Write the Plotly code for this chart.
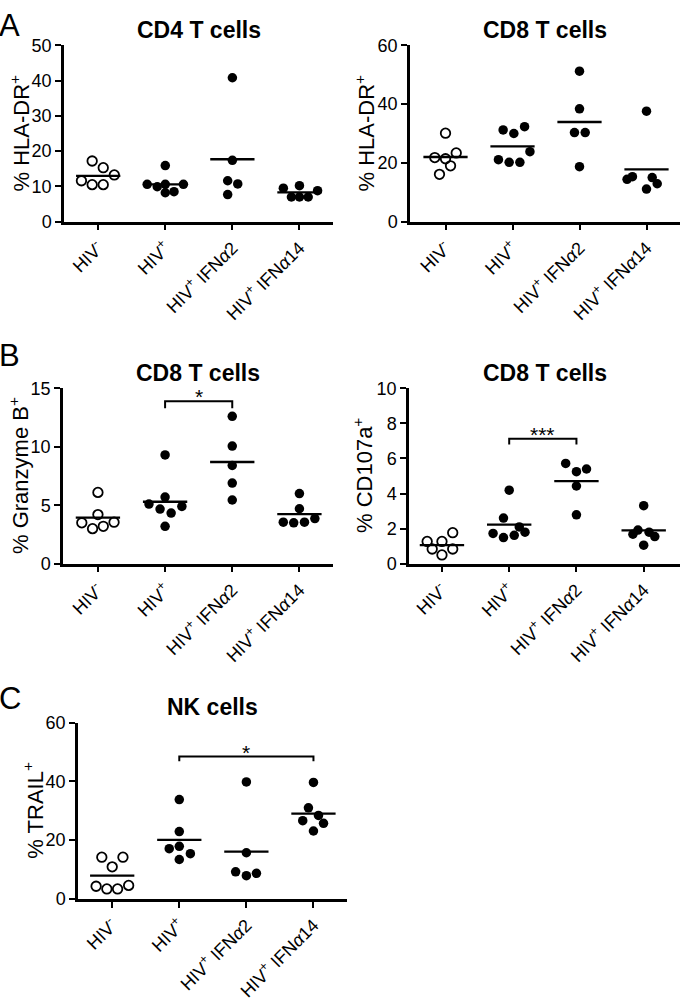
import plotly.graph_objects as go

W, H = 680, 1003
FONT = "Liberation Sans, Arial, sans-serif"

## group labels (x axis)
groups = ["HIV<sup>-</sup>", "HIV<sup>+</sup>",
          "HIV<sup>+</sup> IFN<i>α</i>2", "HIV<sup>+</sup> IFN<i>α</i>14"]

## A: CD4 T cells, % HLA-DR+
cd4_hladr = [
    [17.2, 15.3, 13.25, 11.6, 10.5, 10.5],
    [15.9, 10.6, 9.9, 10.6, 10.6, 8.2, 8.5],
    [40.8, 17.4, 11.6, 10.7, 7.7],
    [9.5, 10.2, 8.8, 7.0, 7.0, 7.0],
]
cd4_hladr_mean = [13.0, 10.6, 17.7, 8.3]
cd4_hladr_dx = [
    [-0.09, 0.075, 0.24, -0.25, -0.09, 0.075],
    [0, -0.27, -0.12, 0.0, 0.27, 0.0, 0.13],
    [0, 0, -0.07, 0.08, -0.07],
    [-0.24, 0, 0.27, -0.12, 0, 0.13],
]

## A: CD8 T cells, % HLA-DR+
cd8_hladr = [
    [30.1, 21.8, 21.4, 23.4, 19.0, 16.1],
    [31.2, 30.0, 32.3, 23.8, 21.1, 20.2, 20.2],
    [51.2, 38.4, 30.3, 30.3, 18.7],
    [37.6, 14.4, 15.3, 15.0, 12.9, 11.1],
]
cd8_hladr_mean = [22.0, 25.6, 33.9, 17.8]
cd8_hladr_dx = [
    [0, -0.16, 0, 0.16, 0.075, -0.09],
    [-0.14, 0.02, 0.18, 0.26, -0.21, -0.05, 0.11],
    [0, 0, -0.075, 0.085, 0],
    [0, -0.29, -0.21, 0.085, 0.16, 0],
]

## B: CD8 T cells, % Granzyme B+
cd8_gzmb = [
    [6.1, 4.2, 3.5, 3.0, 3.2, 3.55],
    [9.3, 5.7, 5.1, 4.67, 4.33, 4.9, 3.2],
    [12.6, 10.06, 8.4, 6.9, 5.45],
    [6.0, 4.7, 3.55, 3.5, 3.55, 3.86],
]
cd8_gzmb_mean = [3.95, 5.3, 8.7, 4.25]
cd8_gzmb_dx = [
    [0, 0, -0.24, -0.08, 0.08, 0.24],
    [0, 0, -0.24, -0.075, 0.09, 0.25, 0],
    [0, 0, 0, 0, 0],
    [0, 0, -0.24, -0.085, 0.075, 0.23],
]

## B: CD8 T cells, % CD107a+
cd8_cd107a = [
    [1.27, 1.77, 0.84, 1.27, 0.84, 0.5],
    [4.19, 2.6, 2.1, 1.73, 1.49, 1.62, 1.8],
    [5.72, 5.25, 5.4, 4.43, 2.79],
    [3.31, 1.92, 1.68, 1.8, 1.55, 1.06],
]
cd8_cd107a_mean = [1.06, 2.23, 4.71, 1.9]
cd8_cd107a_dx = [
    [-0.22, 0.16, -0.145, 0, 0.16, 0],
    [0, -0.085, 0.15, -0.24, -0.085, 0.075, 0.235],
    [-0.16, 0, 0.15, 0, 0],
    [0, -0.085, -0.16, 0.08, 0.165, 0],
]

## C: NK cells, % TRAIL+
nk_trail = [
    [14.2, 14.2, 10.9, 4.3, 3.4, 3.4, 4.6],
    [33.8, 22.9, 17.1, 17.9, 15.4, 13.4],
    [39.8, 15.7, 9.2, 7.9, 8.7],
    [39.6, 31.0, 28.4, 26.6, 25.7, 23.1],
]
nk_trail_mean = [7.9, 20.1, 16.1, 29.0]
nk_trail_dx = [
    [-0.155, 0.16, 0, -0.24, -0.08, 0.08, 0.245],
    [0, 0, -0.15, 0, 0.165, 0],
    [0, 0, -0.16, 0, 0.15],
    [0, -0.075, 0.075, -0.16, 0.15, 0],
]

## significance brackets: (from group, to group, height, drop, label)
sig_gzmb = (1, 2, 13.9, 13.3, "*")
sig_cd107a = (1, 2, 7.13, 6.8, "***")
sig_trail = (1, 3, 48.4, 46.8, "*")

# panel layout in pixels: x0, x1 (axis span), y0 (top), y1 (bottom)
panels = [
    dict(data=cd4_hladr, mean=cd4_hladr_mean, dx=cd4_hladr_dx,
         title="CD4 T cells", ylab="% HLA-DR<sup>+</sup>",
         yr=[0, 50], dtick=10, xpx=(64, 333), xr=[-0.51, 3.5], ypx=(36, 216),
         ylx=20, sig=None),
    dict(data=cd8_hladr, mean=cd8_hladr_mean, dx=cd8_hladr_dx,
         title="CD8 T cells", ylab="% HLA-DR<sup>+</sup>",
         yr=[0, 60], dtick=20, xpx=(410, 680), xr=[-0.53, 3.5], ypx=(36, 216),
         ylx=365, sig=None),
    dict(data=cd8_gzmb, mean=cd8_gzmb_mean, dx=cd8_gzmb_dx,
         title="CD8 T cells", ylab="% Granzyme B<sup>+</sup>",
         yr=[0, 15], dtick=5, xpx=(63, 333), xr=[-0.52, 3.5], ypx=(386, 565),
         ylx=19, sig=sig_gzmb),
    dict(data=cd8_cd107a, mean=cd8_cd107a_mean, dx=cd8_cd107a_dx,
         title="CD8 T cells", ylab="% CD107a<sup>+</sup>",
         yr=[0, 10], dtick=2, xpx=(409, 680), xr=[-0.49, 3.54], ypx=(386, 565),
         ylx=363, sig=sig_cd107a),
    dict(data=nk_trail, mean=nk_trail_mean, dx=nk_trail_dx,
         title="NK cells", ylab="% TRAIL<sup>+</sup>",
         yr=[0, 60], dtick=20, xpx=(78, 347), xr=[-0.51, 3.5], ypx=(727, 907),
         ylx=33, sig=sig_trail),
]

fig = go.Figure()
annotations = []
layout = {}

for i, p in enumerate(panels):
    sfx = "" if i == 0 else str(i + 1)
    xa, ya = "x" + sfx, "y" + sfx

    for g, vals in enumerate(p["data"]):
        xs = [g + d for d in p["dx"][g]]
        if g == 0:
            mk = dict(symbol="circle-open", size=9.5, color="black",
                      line=dict(width=1.8, color="black"))
        else:
            mk = dict(symbol="circle", size=9.5, color="black",
                      line=dict(width=0))
        fig.add_trace(go.Scatter(x=xs, y=vals, mode="markers", marker=mk,
                                 xaxis=xa, yaxis=ya, showlegend=False,
                                 cliponaxis=False))
        m = p["mean"][g]
        fig.add_trace(go.Scatter(x=[g - 0.33, g + 0.33], y=[m, m], mode="lines",
                                 line=dict(color="black", width=2.3),
                                 xaxis=xa, yaxis=ya, showlegend=False))

    if p["sig"]:
        g0, g1, top, drop, lab = p["sig"]
        fig.add_trace(go.Scatter(x=[g0, g0, g1, g1], y=[drop, top, top, drop],
                                 mode="lines", line=dict(color="black", width=2),
                                 xaxis=xa, yaxis=ya, showlegend=False,
                                 cliponaxis=False))
        annotations.append(dict(x=(g0 + g1) / 2, y=top, xref=xa, yref=ya,
                                text=lab, showarrow=False, yanchor="bottom",
                                yshift=-9, font=dict(size=21, color="black",
                                                     family=FONT)))

    x0, x1 = p["xpx"]
    y0, y1 = p["ypx"]
    layout["xaxis" + sfx] = dict(
        domain=[x0 / W, x1 / W], range=p["xr"], anchor=ya,
        tickvals=[0, 1, 2, 3], ticktext=groups, tickangle=-45,
        showline=True, linecolor="black", linewidth=2.5,
        ticks="outside", ticklen=6, tickwidth=2, tickcolor="black",
        showgrid=False, zeroline=False,
        tickfont=dict(size=18, color="black", family=FONT))
    layout["yaxis" + sfx] = dict(
        domain=[1 - y1 / H, 1 - y0 / H], range=p["yr"], anchor=xa,
        tick0=0, dtick=p["dtick"],
        showline=True, linecolor="black", linewidth=2.5,
        ticks="outside", ticklen=6, tickwidth=2, tickcolor="black",
        showgrid=False, zeroline=False,
        tickfont=dict(size=18, color="black", family=FONT))

    # panel title and y label
    annotations.append(dict(x=(x0 + x1) / 2 / W, y=1 - (y0 - 16) / H,
                            xref="paper", yref="paper", text="<b>%s</b>" % p["title"],
                            showarrow=False, xanchor="center", yanchor="middle",
                            font=dict(size=23, color="black", family=FONT)))
    annotations.append(dict(x=p["ylx"] / W, y=1 - (y0 + y1) / 2 / H,
                            xref="paper", yref="paper", text=p["ylab"],
                            textangle=-90, showarrow=False,
                            xanchor="center", yanchor="middle",
                            font=dict(size=22, color="black", family=FONT)))

# panel letters
for lab, ypx in [("A", 16), ("B", 353), ("C", 702)]:
    annotations.append(dict(x=0, y=1 - ypx / H, xref="paper", yref="paper",
                            text=lab, showarrow=False, xanchor="left",
                            yanchor="middle", xshift=-3,
                            font=dict(size=31, color="black", family=FONT)))

fig.update_layout(
    width=W, height=H,
    margin=dict(l=0, r=0, t=0, b=0),
    paper_bgcolor="white", plot_bgcolor="white",
    font=dict(family=FONT, color="black"),
    hovermode=False,
    annotations=annotations,
    **layout)

# drop the default page margin so the figure sits at the window corner
fig.write_html("out.html", config={"displayModeBar": False},
               post_script="document.body.style.margin='0';")
